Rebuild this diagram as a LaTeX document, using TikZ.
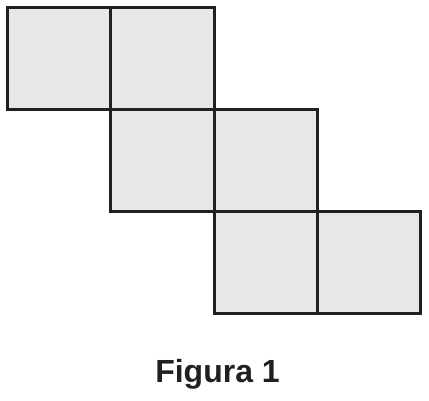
\documentclass[tikz,border=0pt]{standalone}
\usepackage{fontspec}
\setmainfont{Liberation Sans}
\definecolor{cellfill}{HTML}{E6E7E9}
\definecolor{cellline}{HTML}{231F20}
\tikzset{cell/.style={draw=cellline,fill=cellfill,line width=3pt,minimum width=103.25pt,minimum height=102pt,inner sep=0pt,outer sep=0pt,anchor=north west}}
\begin{document}
\begin{tikzpicture}[x=1pt,y=-1pt]
\useasboundingbox (0,0) rectangle (429,401);
\node[cell] (a) at (7.5,7.5) {};
\node[cell] (b) at (110.75,7.5) {};
\node[cell] (c) at (110.75,109.5) {};
\node[cell] (d) at (214,109.5) {};
\node[cell] (e) at (214,211.5) {};
\node[cell] (f) at (317.25,211.5) {};
\node[font=\bfseries\fontsize{32}{38}\selectfont,text=cellline,anchor=base] (t) at (217.5,382) {Figura 1};
\end{tikzpicture}
\end{document}
